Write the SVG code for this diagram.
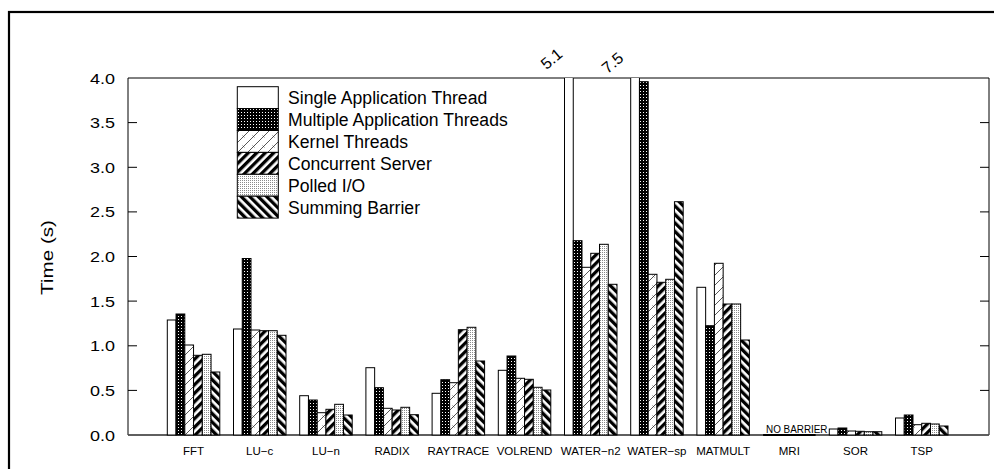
<svg xmlns="http://www.w3.org/2000/svg" width="994" height="469" viewBox="0 0 994 469">
<style>
.t{font-family:"Liberation Sans",Arial,sans-serif;fill:#000}
.tick{font-size:15px;text-anchor:end}
.xl{font-size:11.5px;text-anchor:middle}
.lg{font-size:17.6px}
.ax{stroke:#000;stroke-width:1;fill:none}
.b{stroke:#000;stroke-width:1}
.s{fill:#fff}
.m{fill:url(#pMulti)}
.k{fill:url(#pKernel)}
.c{fill:url(#pConc)}
.p{fill:url(#pPolled)}
.sb{fill:url(#pSum)}
</style>
<defs>
<pattern id="pMulti" width="3" height="3" patternUnits="userSpaceOnUse"><rect width="3" height="3" fill="#000"/><rect x="1" y="1" width="1" height="1" fill="#fff"/></pattern>
<pattern id="pPolled" width="2" height="2" patternUnits="userSpaceOnUse"><rect width="2" height="2" fill="#fff"/><rect width="1" height="1" fill="#8a8a8a"/></pattern>
<pattern id="pKernel" width="10" height="10" patternUnits="userSpaceOnUse"><rect width="10" height="10" fill="#fff"/><path d="M-1,11 L11,-1 M-1,1 L1,-1 M9,11 L11,9" stroke="#444" stroke-width="0.9"/><path d="M2.5,7.5 l2,-2 M2.5,5.5 l2,2" stroke="#444" stroke-width="0.7"/></pattern>
<pattern id="pConc" width="6" height="6" patternUnits="userSpaceOnUse" patternTransform="rotate(45)"><rect width="6" height="6" fill="#fff"/><rect width="3.3" height="6" fill="#000"/></pattern>
<pattern id="pSum" width="6" height="6" patternUnits="userSpaceOnUse" patternTransform="rotate(-45)"><rect width="6" height="6" fill="#fff"/><rect width="3.3" height="6" fill="#000"/></pattern>
<clipPath id="plot"><rect x="128" y="78" width="861" height="358"/></clipPath>
</defs>
<rect width="994" height="469" fill="#fff"/>
<rect x="9" y="12" width="990" height="470" fill="none" stroke="#000" stroke-width="2.2"/>

<g id="axes">
<path class="ax" d="M128,78 H989 V435 H128 Z"/>
<path d="M128,435 H989" stroke="#555" stroke-width="1.6"/>
<path class="ax" d="M128,122.6 h9 M128,167.3 h9 M128,211.9 h9 M128,256.5 h9 M128,301.1 h9 M128,345.8 h9 M128,390.4 h9 M989,122.6 h-9 M989,167.3 h-9 M989,211.9 h-9 M989,256.5 h-9 M989,301.1 h-9 M989,345.8 h-9 M989,390.4 h-9"/>
<g class="t tick">
<text x="115" y="83.5" textLength="25" lengthAdjust="spacingAndGlyphs">4.0</text>
<text x="115" y="128" textLength="25" lengthAdjust="spacingAndGlyphs">3.5</text>
<text x="115" y="172.7" textLength="25" lengthAdjust="spacingAndGlyphs">3.0</text>
<text x="115" y="217.3" textLength="25" lengthAdjust="spacingAndGlyphs">2.5</text>
<text x="115" y="262" textLength="25" lengthAdjust="spacingAndGlyphs">2.0</text>
<text x="115" y="306.5" textLength="25" lengthAdjust="spacingAndGlyphs">1.5</text>
<text x="115" y="351.2" textLength="25" lengthAdjust="spacingAndGlyphs">1.0</text>
<text x="115" y="395.8" textLength="25" lengthAdjust="spacingAndGlyphs">0.5</text>
<text x="115" y="440.5" textLength="25" lengthAdjust="spacingAndGlyphs">0.0</text>
</g>
<text class="t" font-size="17" transform="translate(53,257.5) rotate(-90)" text-anchor="middle" textLength="75" lengthAdjust="spacingAndGlyphs">Time (s)</text>
<g class="t xl">
<text x="193.5" y="455">FFT</text>
<text x="259.7" y="455">LU−c</text>
<text x="325.9" y="455">LU−n</text>
<text x="392.1" y="455">RADIX</text>
<text x="458.3" y="455">RAYTRACE</text>
<text x="524.5" y="455">VOLREND</text>
<text x="590.7" y="455">WATER−n2</text>
<text x="656.9" y="455">WATER−sp</text>
<text x="723.1" y="455">MATMULT</text>
<text x="789.3" y="455">MRI</text>
<text x="855.5" y="455">SOR</text>
<text x="921.7" y="455">TSP</text>
</g>
</g>

<g id="bars" clip-path="url(#plot)">
<g id="g-fft">
<rect class="b s" x="167.3" y="320" width="8.75" height="115"/>
<rect class="b m" x="176.05" y="314" width="8.75" height="121"/>
<rect class="b k" x="184.8" y="345" width="8.75" height="90"/>
<rect class="b c" x="193.55" y="355.3" width="8.75" height="79.7"/>
<rect class="b p" x="202.3" y="354.3" width="8.75" height="80.7"/>
<rect class="b sb" x="211.05" y="372" width="8.75" height="63"/>
</g>
<g id="g-luc">
<rect class="b s" x="233.5" y="329" width="8.75" height="106"/>
<rect class="b m" x="242.25" y="258.5" width="8.75" height="176.5"/>
<rect class="b k" x="251" y="330" width="8.75" height="105"/>
<rect class="b c" x="259.75" y="330.7" width="8.75" height="104.3"/>
<rect class="b p" x="268.5" y="330.7" width="8.75" height="104.3"/>
<rect class="b sb" x="277.25" y="335.3" width="8.75" height="99.7"/>
</g>
<g id="g-lun">
<rect class="b s" x="299.7" y="395.7" width="8.75" height="39.3"/>
<rect class="b m" x="308.45" y="400" width="8.75" height="35"/>
<rect class="b k" x="317.2" y="412.7" width="8.75" height="22.3"/>
<rect class="b c" x="325.95" y="409.3" width="8.75" height="25.7"/>
<rect class="b p" x="334.7" y="404.3" width="8.75" height="30.7"/>
<rect class="b sb" x="343.45" y="415" width="8.75" height="20"/>
</g>
<g id="g-radix">
<rect class="b s" x="365.9" y="367.7" width="8.75" height="67.3"/>
<rect class="b m" x="374.65" y="387.7" width="8.75" height="47.3"/>
<rect class="b k" x="383.4" y="408.3" width="8.75" height="26.7"/>
<rect class="b c" x="392.15" y="410" width="8.75" height="25"/>
<rect class="b p" x="400.9" y="407.3" width="8.75" height="27.7"/>
<rect class="b sb" x="409.65" y="414.7" width="8.75" height="20.3"/>
</g>
<g id="g-raytrace">
<rect class="b s" x="432.1" y="393.3" width="8.75" height="41.7"/>
<rect class="b m" x="440.85" y="379.7" width="8.75" height="55.3"/>
<rect class="b k" x="449.6" y="382.7" width="8.75" height="52.3"/>
<rect class="b c" x="458.35" y="329.7" width="8.75" height="105.3"/>
<rect class="b p" x="467.1" y="327.3" width="8.75" height="107.7"/>
<rect class="b sb" x="475.85" y="361" width="8.75" height="74"/>
</g>
<g id="g-volrend">
<rect class="b s" x="498.3" y="370.3" width="8.75" height="64.7"/>
<rect class="b m" x="507.05" y="356" width="8.75" height="79"/>
<rect class="b k" x="515.8" y="378.3" width="8.75" height="56.7"/>
<rect class="b c" x="524.55" y="379.3" width="8.75" height="55.7"/>
<rect class="b p" x="533.3" y="387.3" width="8.75" height="47.7"/>
<rect class="b sb" x="542.05" y="390" width="8.75" height="45"/>
</g>
<g id="g-watern2">
<rect class="b s" x="564.5" y="70" width="8.75" height="365"/>
<rect class="b m" x="573.25" y="240.7" width="8.75" height="194.3"/>
<rect class="b k" x="582" y="267.3" width="8.75" height="167.7"/>
<rect class="b c" x="590.75" y="253.3" width="8.75" height="181.7"/>
<rect class="b p" x="599.5" y="244.3" width="8.75" height="190.7"/>
<rect class="b sb" x="608.25" y="284.3" width="8.75" height="150.7"/>
</g>
<g id="g-watersp">
<rect class="b s" x="630.7" y="70" width="8.75" height="365"/>
<rect class="b m" x="639.45" y="81.7" width="8.75" height="353.3"/>
<rect class="b k" x="648.2" y="274.3" width="8.75" height="160.7"/>
<rect class="b c" x="656.95" y="282.3" width="8.75" height="152.7"/>
<rect class="b p" x="665.7" y="279.3" width="8.75" height="155.7"/>
<rect class="b sb" x="674.45" y="201.7" width="8.75" height="233.3"/>
</g>
<g id="g-matmult">
<rect class="b s" x="696.9" y="287.3" width="8.75" height="147.7"/>
<rect class="b m" x="705.65" y="325.7" width="8.75" height="109.3"/>
<rect class="b k" x="714.4" y="263.3" width="8.75" height="171.7"/>
<rect class="b c" x="723.15" y="304" width="8.75" height="131"/>
<rect class="b p" x="731.9" y="304" width="8.75" height="131"/>
<rect class="b sb" x="740.65" y="340" width="8.75" height="95"/>
</g>
<g id="g-mri">
<path d="M763.1,435 H815.6" stroke="#000" stroke-width="2"/>
</g>
<g id="g-sor">
<rect class="b s" x="829.3" y="429" width="8.75" height="6"/>
<rect class="b m" x="838.05" y="428" width="8.75" height="7"/>
<rect class="b k" x="846.8" y="431" width="8.75" height="4"/>
<rect class="b c" x="855.55" y="431.3" width="8.75" height="3.7"/>
<rect class="b p" x="864.3" y="431.7" width="8.75" height="3.3"/>
<rect class="b sb" x="873.05" y="431.7" width="8.75" height="3.3"/>
</g>
<g id="g-tsp">
<rect class="b s" x="895.5" y="418" width="8.75" height="17"/>
<rect class="b m" x="904.25" y="415" width="8.75" height="20"/>
<rect class="b k" x="913" y="424.7" width="8.75" height="10.3"/>
<rect class="b c" x="921.75" y="423.3" width="8.75" height="11.7"/>
<rect class="b p" x="930.5" y="424" width="8.75" height="11"/>
<rect class="b sb" x="939.25" y="426" width="8.75" height="9"/>
</g>
</g>

<g id="annotations">
<text class="t" font-size="10" x="766" y="433" textLength="61.5" lengthAdjust="spacingAndGlyphs">NO BARRIER</text>
<text class="t" font-size="16" text-anchor="middle" transform="translate(555,63) rotate(-40)">5.1</text>
<text class="t" font-size="16" text-anchor="middle" transform="translate(616,67) rotate(-40)">7.5</text>
</g>

<g id="legend">
<rect class="b s" x="237.3" y="86.7" width="41" height="21.9"/>
<rect class="b m" x="237.3" y="108.6" width="41" height="21.9"/>
<rect class="b k" x="237.3" y="130.5" width="41" height="21.9"/>
<rect class="b c" x="237.3" y="152.4" width="41" height="21.9"/>
<rect class="b p" x="237.3" y="174.3" width="41" height="21.9"/>
<rect class="b sb" x="237.3" y="196.2" width="41" height="21.9"/>
<g class="t lg">
<text x="288" y="104">Single Application Thread</text>
<text x="288" y="126">Multiple Application Threads</text>
<text x="288" y="148">Kernel Threads</text>
<text x="288" y="170">Concurrent Server</text>
<text x="288" y="192">Polled I/O</text>
<text x="288" y="214">Summing Barrier</text>
</g>
</g>
</svg>
